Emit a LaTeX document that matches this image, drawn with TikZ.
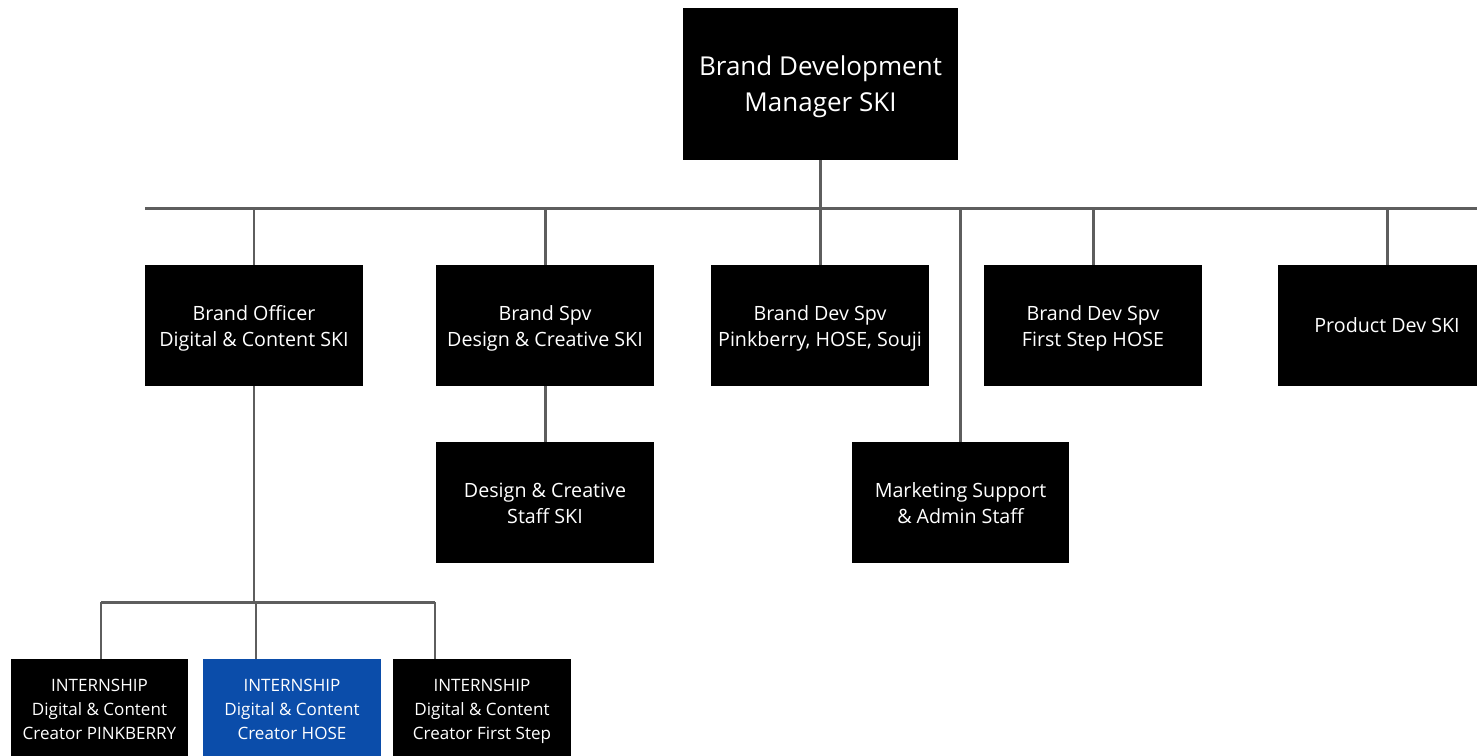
\documentclass[tikz,border=0pt]{standalone}
\usepackage{fontspec}
\setmainfont{Open Sans}
\definecolor{linegray}{HTML}{5E5E5E}
\definecolor{hoseblue}{HTML}{0B4DAA}
\begin{document}
\begin{tikzpicture}[
        x=0.02cm, y=-0.02cm,
        box/.style={fill=black, text=white, minimum width=4.36cm, minimum height=2.42cm, align=center, font=\fontsize{11.2}{15}\selectfont, inner sep=0pt},
        topbox/.style={box, minimum width=5.5cm, minimum height=3.04cm, font=\fontsize{14.8}{20.5}\selectfont},
        internbox/.style={box, minimum width=3.56cm, minimum height=2cm, font=\fontsize{9.7}{13.7}\selectfont},
        link/.style={draw=linegray, line width=1.7pt}
    ]
        \clip (0,0) rectangle (1477,755);
        \fill[white] (0,0) rectangle (1477,755);

        % Manager and the line under him
        \node[topbox] (mgr) at (820.5,84) {\\[-6pt]Brand Development\\Manager SKI};
        \coordinate (bus) at (145,208);
        \draw[link] (bus) -- (1477,208);
        \draw[link] (mgr.south) -- (mgr.south |- bus);

        % Second row
        \node[box] (officer) at (254,325.5) {\rule{0pt}{12pt}Brand Officer\\Digital \& Content SKI\vphantom{g}};
        \node[box] (design) at (545,325.5) {\rule{0pt}{12pt}Brand Spv\\Design \& Creative SKI\vphantom{g}};
        \node[box] (pinkberry) at (820,325.5) {\rule{0pt}{12pt}Brand Dev Spv\\Pinkberry, HOSE, Souji\vphantom{g}};
        \node[box] (firststep) at (1093,325.5) {\rule{0pt}{12pt}Brand Dev Spv\\First Step HOSE\vphantom{g}};
        \node[box] (product) at (1387,325.5) {Product Dev SKI};
        \foreach \n in {officer,design,pinkberry,firststep,product}
            \draw[link] (\n.north) -- (\n.north |- bus);

        % Staff under the bus and under design
        \node[box] (staff) at (545,502.5) {\rule{0pt}{12pt}Design \& Creative\\Staff SKI\vphantom{g}};
        \node[box] (support) at (960.5,502.5) {\rule{0pt}{12pt}Marketing Support\\\& Admin Staff\vphantom{g}};
        \draw[link] (design.south) -- (staff.north);
        \draw[link] (support.north) -- (support.north |- bus);

        % Internships
        \node[internbox] (pink) at (99.5,709) {\rule{0pt}{10pt}INTERNSHIP\\Digital \& Content\\Creator PINKBERRY\vphantom{g}};
        \node[internbox, fill=hoseblue] (hose) at (292,709) {\rule{0pt}{10pt}INTERNSHIP\\Digital \& Content\\Creator HOSE\vphantom{g}};
        \node[internbox] (first) at (482,709) {\rule{0pt}{10pt}INTERNSHIP\\Digital \& Content\\Creator First Step\vphantom{g}};
        \coordinate (sub) at (101,602);
        \coordinate (submid) at (256,602);
        \coordinate (subend) at (435,602);
        \draw[link] (officer.south) -- (officer.south |- sub);
        \draw[link] (sub) -- (subend);
        \draw[link] (sub) -- (sub |- pink.north);
        \draw[link] (submid) -- (submid |- hose.north);
        \draw[link] (subend) -- (subend |- first.north);
    \end{tikzpicture}
\end{document}
